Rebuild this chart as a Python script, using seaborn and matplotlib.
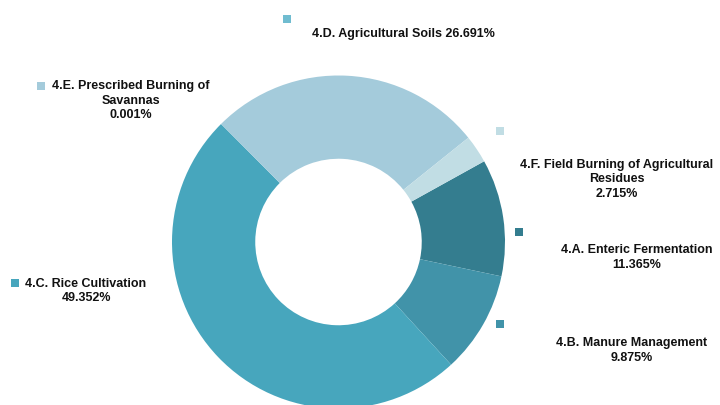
import matplotlib
matplotlib.use("Agg")
import matplotlib.pyplot as plt
import seaborn as sns

sns.set_theme(style="white")
plt.rcParams["font.family"] = ["Liberation Sans", "DejaVu Sans"]

# Agricultural emission shares by source category (%)
categories = [
    "4.A. Enteric Fermentation",
    "4.B. Manure Management",
    "4.C. Rice Cultivation",
    "4.E. Prescribed Burning of Savannas",
    "4.D. Agricultural Soils",
    "4.F. Field Burning of Agricultural Residues",
]
shares = [11.365, 9.875, 49.352, 0.001, 26.691, 2.715]
slice_colors = ["#347d8f", "#4193a9", "#47a6bd", "#a4cbdb", "#a4cbdb", "#c1dde4"]
marker_colors = ["#347d8f", "#4193a9", "#47a6bd", "#a4cbdb", "#70bcd0", "#c1dde4"]

# Label text as drawn (line breaks) per category
label_texts = [
    "4.A. Enteric Fermentation\n{:.3f}%",
    "4.B. Manure Management\n{:.3f}%",
    "4.C. Rice Cultivation\n{:.3f}%",
    "4.E. Prescribed Burning of\nSavannas\n{:.3f}%",
    "4.D. Agricultural Soils {:.3f}%",
    "4.F. Field Burning of Agricultural\nResidues\n{:.3f}%",
]

W, H = 720, 405
fig = plt.figure(figsize=(W / 100, H / 100), dpi=100)
ax = fig.add_axes([0, 0, 1, 1])

cx, cy, r = 338.5, H - 242, 166.5
ax.pie(
    shares,
    colors=slice_colors,
    startangle=29,
    counterclock=False,
    radius=r,
    center=(cx, cy),
    wedgeprops=dict(width=r * 0.5, linewidth=0),
    frame=True,
)
ax.set_xlim(0, W)
ax.set_ylim(0, H)
ax.set_aspect("equal")
ax.axis("off")

# label anchors: square marker (x, y) and centre of the text block (x, y)
marker_pos = [(519, 232), (500, 324), (15, 283), (41, 86), (287, 19), (500, 131)]
text_pos = [(637, 257.5), (632, 350.5), (86, 291), (131, 100.5), (403, 34), (617, 179.5)]

for i, val in enumerate(shares):
    mx, my = marker_pos[i]
    ax.scatter([mx], [H - my], marker="s", s=36, color=marker_colors[i],
               linewidths=0, zorder=5)
    tx, ty = text_pos[i]
    ax.text(tx, H - ty, label_texts[i].format(val), ha="center", va="center",
            multialignment="center", fontsize=9, fontweight="bold",
            color="#111111", linespacing=1.32, zorder=6)

fig.savefig("out.png", dpi=100, facecolor="white")
